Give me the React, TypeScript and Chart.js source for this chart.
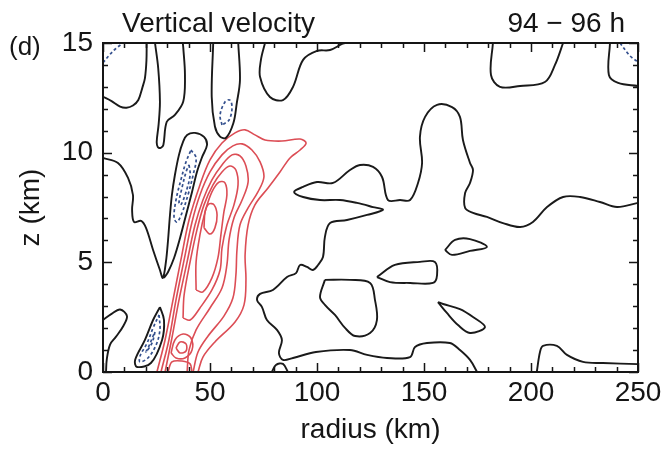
import { useEffect, useRef } from "react";
import { Chart, registerables } from "chart.js";

Chart.register(...registerables);

type Pt = [number, number];

// ---- axes / text ----
const xTicks = [0, 50, 100, 150, 200, 250];
const yTicks = [0, 5, 10, 15];
const xMinorStep = 10;
const yMinorStep = 1;
const panelLabel = "(d)";
const titleText = "Vertical velocity";
const timeText = "94 \u2212 96 h";
const xTitle = "radius (km)";
const yTitle = "z (km)";

// ---- zero contours (black) : [radius km, z km] ----
const zeroTopLeftArc: Pt[] = [[0,12.55],[4,12.35],[8,12.1],[11,12.05],[14,12.15],[16.5,12.4],[18.5,13.0],[19.6,13.4],[20.3,14.2],[20.4,15]];
const zeroUShape: Pt[] = [[24.3,15],[25.8,13.85],[26.6,12.33],[26,11.3],[25.1,10.5],[25.6,10.26],[27,10.22],[28.2,10.35],[29.8,11.41],[33.6,11.72],[37.5,12.33],[38.3,13.54],[37.5,14.8],[37.3,15]];
const zeroOvalRing: Pt[] = [[51.5,15],[50.8,12.55],[52.3,11.19],[54.7,10.73],[57.5,10.68],[60.9,11.34],[62.5,12.25],[64,13.3],[63.2,15]];
const zeroTopBump: Pt[] = [[75.7,15],[73.8,14.23],[73.4,13.45],[78.0,12.54],[84.1,12.4],[88.8,13.0],[93.5,14.23],[100.0,14.64],[106.1,14.68],[111.7,14.96],[113.1,15]];
const zeroTopRightCup: Pt[] = [[182.2,15],[181.3,13.54],[185.5,13.0],[194.9,13.04],[206.5,13.22],[211.2,14.0],[215,15]];
const zeroCornerCup: Pt[] = [[236.9,15],[236.4,13.54],[240.7,13.18],[250,13.04]];
const zeroBandLoop: Pt[] = [[0,9.76],[7.0,9.53],[11.7,8.85],[14.0,8.07],[13.6,7.39],[14.5,6.84],[17.8,6.89],[20.1,6.57],[23.4,5.56],[26.6,4.65],[28.0,4.29],[29.4,5.02],[30.4,6.02],[31.3,7.16],[32.2,8.07],[33.6,8.98],[35.5,9.9],[37.4,10.49],[39.3,10.81],[43.0,10.9],[47.2,10.72],[48.6,10.35],[46.3,9.8],[43.9,9.12],[41.6,8.21],[38.8,7.16],[36.0,6.11],[33.2,5.2],[30.4,4.56],[28.5,4.29]];
const zeroBottomLeftHook: Pt[] = [[0,2.37],[4,2.65],[8,2.85],[11.2,2.55],[9.5,2.1],[6,1.6],[3.3,1.25],[1.8,0.6],[1.4,0]];
const zeroLowerBandRing: Pt[] = [[26.6,2.96],[28.5,2.37],[27.6,1.46],[22.4,0.41],[15.9,0.23],[15.0,0.55],[19.6,1.46],[23.4,2.37]];
const zeroMain: Pt[] = [[250,7.71],[240.2,7.52],[232.2,7.75],[222.9,7.98],[215.0,7.98],[207.5,7.52],[200.9,6.84],[194.9,6.61],[186.9,6.79],[179.4,7.07],[172.9,7.25],[169.2,7.48],[169.2,8.16],[171.5,8.62],[172.9,9.21],[171.5,9.53],[168.2,10.58],[166.8,11.63],[163.1,12.08],[156.1,12.18],[150.5,11.63],[148.1,10.72],[149.1,9.53],[147.2,8.62],[143.5,7.84],[138.8,7.84],[133.2,7.84],[130.4,8.89],[126.2,9.35],[120.1,9.44],[115.4,9.21],[107.5,8.62],[100.0,8.66],[93.5,8.44],[89.3,8.21],[93.5,7.98],[101.4,7.84],[110.7,7.84],[118.7,7.71],[126.2,7.52],[130.8,7.39],[123.4,7.16],[114.0,6.93],[106.1,6.79],[103.7,6.16],[102.8,5.24],[100.5,4.88],[98.1,4.65],[95.3,4.79],[92.1,4.88],[90.2,4.51],[86.0,4.33],[79.4,3.74],[73.4,3.56],[72.0,3.28],[74.3,2.96],[76.6,2.37],[81.3,1.92],[83.6,1.46],[82.2,0.87],[84.1,0.55],[88.8,0.64],[99.5,0.91],[115.4,1.0],[123.4,0.78],[132.7,0.64],[143.5,0.68],[145.8,1.14],[151.4,1.32],[162.1,1.32],[166.8,1.0],[171.5,0.55],[174.8,0]];
const zeroBottomNub: Pt[] = [[78.9,0],[80.8,0.32],[84.1,0.37],[86.4,0]];
const zeroLoopA: Pt[] = [[159.8,5.56],[164.5,6.02],[171.5,6.06],[179.4,5.7],[171.5,5.52],[163.1,5.34]];
const zeroLoopB: Pt[] = [[128.0,4.33],[136.4,4.88],[148.1,5.02],[155.1,5.02],[156.1,4.42],[154.2,4.06],[143.5,4.06],[134.1,4.1]];
const zeroLoopC: Pt[] = [[103.7,4.2],[115.4,4.2],[124.8,4.06],[127.1,3.28],[128.0,2.37],[124.8,1.78],[117.8,1.64],[113.1,2.01],[108.4,2.6],[103.7,3.06],[101.4,3.42]];
const zeroLoopD: Pt[] = [[156.5,3.19],[160.7,2.69],[165.9,2.14],[171.5,1.78],[178.5,2.05],[172.9,2.51],[166.8,2.87],[158.9,3.1]];
const zeroBottomRight: Pt[] = [[202.7,0],[204.2,0.91],[205.6,1.19],[212.1,1.19],[216.8,0.78],[224.3,0.46],[233.6,0.41],[250,0.36]];

// ---- positive contours (red) ----
const pos1: Pt[] = [[25.2,0],[29.0,1.46],[32.7,3.28],[36.4,5.11],[40.2,6.93],[45.3,8.53],[50.0,9.67],[55.6,10.44],[61.7,10.9],[66.4,11.04],[71.0,10.81],[75.7,10.58],[83.6,10.53],[92.1,10.62],[94.9,10.44],[92.1,10.12],[87.4,9.76],[82.7,9.12],[77.1,8.39],[71.0,7.62],[67.8,6.7],[66.4,5.34],[66.8,4.2],[65.9,3.06],[61.7,2.28],[52.3,1.37],[46.7,0.68],[44.4,0]];
const pos2: Pt[] = [[27.1,0],[30.8,1.46],[34.1,3.28],[37.9,5.11],[41.6,6.84],[45.3,8.07],[50.0,9.12],[55.6,9.9],[60.7,10.31],[65.0,10.4],[69.6,10.12],[73.4,9.58],[75.2,8.89],[72.4,8.21],[67.8,7.48],[64.0,6.7],[62.6,5.56],[62.1,4.42],[60.7,3.37],[56.5,2.55],[49.1,1.64],[44.4,0.91],[42.1,0]];
const pos3: Pt[] = [[29.0,0],[32.2,1.55],[35.5,3.28],[39.3,5.02],[43.0,6.7],[46.7,7.84],[50.9,8.76],[55.6,9.44],[60.3,9.9],[64.0,9.85],[66.8,9.39],[67.8,8.66],[65.0,7.84],[61.2,7.02],[58.9,6.02],[57.9,4.88],[55.6,3.83],[50.0,2.92],[43.5,1.92],[40.2,1.0],[39.3,0]];
const pos4: Pt[] = [[37.4,2.46],[37.9,3.51],[40.7,5.02],[43.9,6.48],[47.2,7.62],[51.4,8.53],[55.6,9.12],[59.3,9.39],[62.1,9.21],[63.1,8.53],[61.2,7.62],[57.9,6.7],[55.6,5.65],[54.7,4.65],[50.9,3.74],[45.3,2.92],[40.7,2.37]];
const pos5: Pt[] = [[43.5,3.74],[43.5,5.02],[45.3,6.25],[47.7,7.3],[50.9,8.21],[54.2,8.66],[57.0,8.62],[57.9,8.07],[56.5,7.3],[55.1,6.25],[53.7,5.2],[50.9,4.29],[46.7,3.65]];
const pos6: Pt[] = [[47.2,6.57],[47.7,7.3],[49.5,7.66],[51.9,7.62],[53.3,7.16],[52.3,6.57],[50.0,6.29]];
const posLow1: Pt[] = [[31.8,0.87],[33.6,1.46],[37.4,1.73],[41.1,1.55],[41.6,1.0],[38.3,0.64],[34.1,0.64]];
const posLow2: Pt[] = [[34.1,1.09],[36.0,1.37],[38.8,1.28],[38.8,0.96],[36.0,0.87]];
const posLow3: Pt[] = [[30.4,0],[32.2,0.46],[36.9,0.5],[40.7,0.37],[41.6,0]];

// ---- negative contours (blue dashed) ----
const negCornerTL: Pt[] = [[0,14.1],[3,14.45],[6,14.75],[9.5,15]];
const negCornerTR: Pt[] = [[241.6,15],[246.3,14.41],[250,14.14]];
const negOval: Pt[] = [[55.6,11.26],[54.7,11.72],[57,12.31],[59.3,12.4],[60.3,12.04],[58.9,11.49]];
const negBand1: Pt[] = [[41.1,10.12],[43.5,9.76],[42.1,8.98],[39.7,8.07],[36.9,7.25],[34.6,6.84],[33.2,7.02],[34.1,7.84],[36.4,8.76],[38.8,9.58]];
const negBand2: Pt[] = [[40.2,9.44],[40.7,8.98],[38.8,8.21],[36.4,7.62],[35.5,7.71],[36.9,8.39],[38.8,9.12]];
const negLow1: Pt[] = [[26.2,2.6],[26.6,1.92],[24.8,1.23],[21.0,0.64],[17.3,0.46],[17.3,0.73],[20.6,1.32],[23.4,2.01]];
const negLow2: Pt[] = [[24.3,1.82],[22.9,1.32],[20.1,0.91],[21.5,1.19],[23.4,1.64]];

type Kind = "zero" | "pos" | "neg";
const contourSet: { pts: Pt[]; kind: Kind; closed?: boolean }[] = [
  { pts: zeroTopLeftArc, kind: "zero" },
  { pts: zeroUShape, kind: "zero" },
  { pts: zeroOvalRing, kind: "zero" },
  { pts: zeroTopBump, kind: "zero" },
  { pts: zeroTopRightCup, kind: "zero" },
  { pts: zeroCornerCup, kind: "zero" },
  { pts: zeroBandLoop, kind: "zero" },
  { pts: zeroBottomLeftHook, kind: "zero" },
  { pts: zeroLowerBandRing, kind: "zero", closed: true },
  { pts: zeroMain, kind: "zero" },
  { pts: zeroBottomNub, kind: "zero" },
  { pts: zeroLoopA, kind: "zero", closed: true },
  { pts: zeroLoopB, kind: "zero", closed: true },
  { pts: zeroLoopC, kind: "zero", closed: true },
  { pts: zeroLoopD, kind: "zero", closed: true },
  { pts: zeroBottomRight, kind: "zero" },
  { pts: pos1, kind: "pos" },
  { pts: pos2, kind: "pos" },
  { pts: pos3, kind: "pos" },
  { pts: pos4, kind: "pos", closed: true },
  { pts: pos5, kind: "pos", closed: true },
  { pts: pos6, kind: "pos", closed: true },
  { pts: posLow1, kind: "pos", closed: true },
  { pts: posLow2, kind: "pos", closed: true },
  { pts: posLow3, kind: "pos" },
  { pts: negCornerTL, kind: "neg" },
  { pts: negCornerTR, kind: "neg" },
  { pts: negOval, kind: "neg", closed: true },
  { pts: negBand1, kind: "neg", closed: true },
  { pts: negBand2, kind: "neg", closed: true },
  { pts: negLow1, kind: "neg", closed: true },
  { pts: negLow2, kind: "neg", closed: true },
];

const FONT = "'Liberation Sans', Arial, Helvetica, sans-serif";
const INK = "#151515";

const styleFor = (k: Kind) =>
  k === "zero"
    ? { borderColor: "#1a1a1a", borderWidth: 1.9, borderDash: [] as number[] }
    : k === "pos"
    ? { borderColor: "#dc4d55", borderWidth: 1.6, borderDash: [] as number[] }
    : { borderColor: "#34508e", borderWidth: 1.7, borderDash: [3, 2.5] };

const overlay = {
  id: "overlay",
  afterDatasetsDraw(chart: any) {
    const { ctx, chartArea } = chart;
    const { left, right, top, bottom } = chartArea;
    const xs = chart.scales.x;
    const ys = chart.scales.y;
    ctx.save();
    ctx.strokeStyle = INK;
    ctx.lineWidth = 1.5;
    ctx.beginPath();
    for (let v = xs.min; v <= xs.max + 1e-6; v += xMinorStep) {
      const px = Math.round(xs.getPixelForValue(v)) + 0.5;
      const len = xTicks.includes(v) ? 9 : 5;
      ctx.moveTo(px, bottom); ctx.lineTo(px, bottom - len);
      ctx.moveTo(px, top); ctx.lineTo(px, top + len);
    }
    for (let v = ys.min; v <= ys.max + 1e-6; v += yMinorStep) {
      const py = Math.round(ys.getPixelForValue(v)) + 0.5;
      const len = yTicks.includes(v) ? 9 : 5;
      ctx.moveTo(left, py); ctx.lineTo(left + len, py);
      ctx.moveTo(right, py); ctx.lineTo(right - len, py);
    }
    ctx.stroke();
    ctx.lineWidth = 2;
    ctx.strokeRect(left, top, right - left, bottom - top);
    ctx.fillStyle = INK;
    ctx.textBaseline = "alphabetic";
    ctx.textAlign = "left";
    ctx.font = `26px ${FONT}`;
    ctx.fillText(panelLabel, 9, 55);
    ctx.font = `28px ${FONT}`;
    ctx.fillText(titleText, 122, 32);
    ctx.textAlign = "right";
    ctx.fillText(timeText, 625, 32);
    ctx.restore();
  },
};

export default function App() {
  const ref = useRef<HTMLCanvasElement | null>(null);
  useEffect(() => {
    document.body.style.margin = "0";
    const canvas = ref.current;
    if (!canvas) return;
    const datasets = contourSet.map((c) => {
      const pts = c.closed ? [...c.pts, c.pts[0]] : c.pts;
      return {
        data: pts.map(([x, y]) => ({ x, y })),
        ...styleFor(c.kind),
        showLine: true,
        pointRadius: 0,
        pointHoverRadius: 0,
        tension: 0.35,
        fill: false,
      };
    });
    const tickFont = { family: FONT, size: 28 };
    const chart = new Chart(canvas, {
      type: "scatter",
      data: { datasets: datasets as any },
      options: {
        animation: false,
        responsive: false,
        devicePixelRatio: 1,
        layout: { padding: { top: 43, right: 30, left: 0, bottom: 0 } },
        plugins: { legend: { display: false }, tooltip: { enabled: false } },
        scales: {
          x: {
            type: "linear",
            min: 0,
            max: 250,
            afterBuildTicks: (s: any) => { s.ticks = xTicks.map((v) => ({ value: v })); },
            afterFit: (s: any) => { s.height = 77; },
            ticks: { font: tickFont, color: INK, padding: 4, autoSkip: false, maxRotation: 0 },
            grid: { display: false, drawTicks: false },
            border: { display: false },
            title: { display: true, text: xTitle, font: { family: FONT, size: 28 }, color: INK, padding: { top: 0, bottom: 2 } },
          },
          y: {
            type: "linear",
            min: 0,
            max: 15,
            afterBuildTicks: (s: any) => { s.ticks = yTicks.map((v) => ({ value: v })); },
            afterFit: (s: any) => { s.width = 103; },
            ticks: { font: tickFont, color: INK, padding: 10, autoSkip: false },
            grid: { display: false, drawTicks: false },
            border: { display: false },
            title: { display: true, text: yTitle, font: { family: FONT, size: 28 }, color: INK, padding: { top: 14, bottom: 0 } },
          },
        },
      },
      plugins: [overlay],
    });
    return () => chart.destroy();
  }, []);
  return (
    <div style={{ width: 668, height: 449 }}>
      <canvas ref={ref} width={668} height={449} />
    </div>
  );
}
